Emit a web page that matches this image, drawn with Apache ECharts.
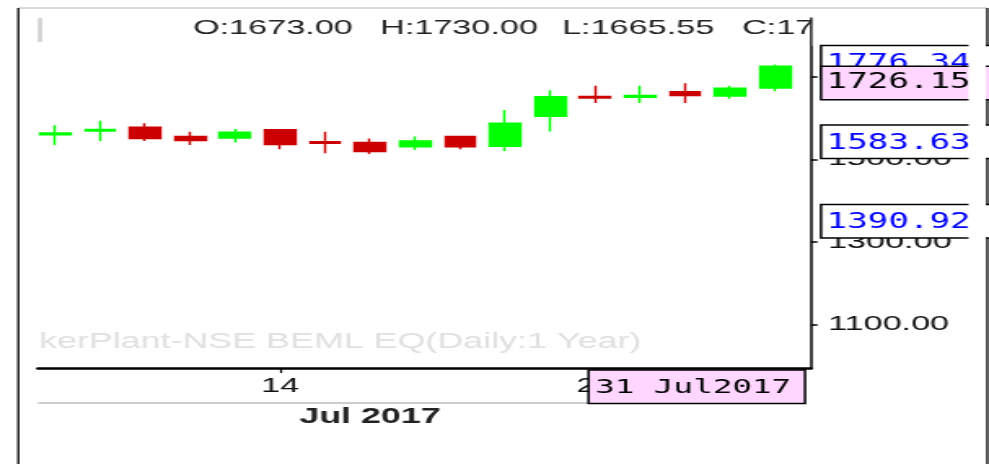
<!DOCTYPE html>
<html><head><meta charset="utf-8">
<script src="https://cdn.jsdelivr.net/npm/echarts@6/dist/echarts.min.js"></script>
<style>
html,body{margin:0;padding:0;background:#fff;overflow:hidden;}
#stage{width:989px;height:464px;overflow:hidden;position:relative;background:#fff;}
#chart{width:607px;height:464px;transform:scaleX(1.629325);transform-origin:0 0;}
</style></head><body>
<div id="stage"><div id="chart"></div></div>
<script>
// ---- data (NSE BEML EQ, daily, July 2017) ----
const dates = ['2017-07-07','2017-07-10','2017-07-11','2017-07-12','2017-07-13','2017-07-14',
  '2017-07-17','2017-07-18','2017-07-19','2017-07-20','2017-07-21','2017-07-24','2017-07-25',
  '2017-07-26','2017-07-27','2017-07-28','2017-07-31'];
const openPrices  = [1560,1569,1578,1556,1552,1572,1543,1541,1531,1556,1532,1605,1653,1651,1664,1654,1673];
const closePrices = [1564,1573,1551,1546,1566,1536,1539,1519,1545,1531,1588,1652,1649,1655,1655,1673,1726.15];
const lowPrices   = [1535,1545,1545,1535,1541,1525,1515,1513,1523,1525,1520,1568,1637,1637,1637,1647,1665.55];
const highPrices  = [1583,1594,1588,1567,1574,1573,1567,1551,1556,1557,1620,1668,1679,1679,1685,1679,1730];
const priceTicks = [1100, 1300, 1500, 1700];
const dateTickIndex = [5, 12];
const upperLevel = 1776.34;
const middleLevel = 1583.63;
const lowerLevel = 1390.92;
const watermarkText = 'kerPlant-NSE BEML EQ(Daily:1 Year)';
const monthNames = ['Jan','Feb','Mar','Apr','May','Jun','Jul','Aug','Sep','Oct','Nov','Dec'];

// ---- layout helpers (picture is horizontally stretched) ----
const S = 989 / 607;
const ix = v => v / S;
const SANS = "'Liberation Sans', Arial, sans-serif";
const MONO = "'DejaVu Sans Mono', 'Liberation Mono', monospace";

const candleData = dates.map((d, i) => [i, openPrices[i], closePrices[i], lowPrices[i], highPrices[i]]);
const last = dates.length - 1;

const chart = echarts.init(document.getElementById('chart'), null, {renderer: 'canvas'});
chart.setOption({
  animation: false,
  backgroundColor: '#fff',
  grid: {left: ix(38), right: 607 - ix(811), top: 18, bottom: 464 - 368, containLabel: false},
  xAxis: {
    type: 'value', min: -0.3814, max: 16.794,
    splitLine: {show: false},
    axisLine: {show: true, onZero: false, lineStyle: {color: '#000', width: 2.5}},
    axisTick: {show: true, customValues: dateTickIndex, length: 5, lineStyle: {color: '#000', width: 1.2}},
    axisLabel: {customValues: dateTickIndex, formatter: v => String(+dates[Math.round(v)].slice(8)),
      fontSize: 21, color: '#111', margin: 8, fontFamily: SANS}
  },
  yAxis: {
    type: 'value', position: 'right', min: 994.5, max: 1843,
    splitLine: {show: false},
    axisLine: {show: true, onZero: false, lineStyle: {color: '#000', width: 1.5}},
    axisTick: {show: true, customValues: priceTicks, length: 4, lineStyle: {color: '#000', width: 1.5}},
    axisLabel: {customValues: priceTicks, formatter: v => v.toFixed(2), fontSize: 21, color: '#111',
      margin: 10.4, fontFamily: SANS}
  },
  series: [{
    type: 'candlestick', data: candleData, barWidth: 19.2,
    itemStyle: {color: '#00ff00', color0: '#cc0000', borderColor: '#00ff00', borderColor0: '#cc0000', borderWidth: 1.45}
  }]
});

const yPix = v => chart.convertToPixel({yAxisIndex: 0}, v);
const g = [];
// frame
g.push({type: 'line', z: 100, shape: {x1: ix(18), y1: 8, x2: ix(987), y2: 8}, style: {stroke: '#b4b4b4', lineWidth: 1}});
g.push({type: 'line', z: 100, shape: {x1: ix(18.3), y1: 8, x2: ix(18.3), y2: 470}, style: {stroke: '#000', lineWidth: 1.3}});
g.push({type: 'line', z: 100, shape: {x1: ix(987.3), y1: 8, x2: ix(987.3), y2: 470}, style: {stroke: '#000', lineWidth: 1.3}});
// top-left mark
g.push({type: 'rect', z: 100, shape: {x: ix(38), y: 18, width: ix(4), height: 24}, style: {fill: '#cfcfcf'}});
// OHLC header
const hdr = [['O:' + openPrices[last].toFixed(2), 193], ['H:' + highPrices[last].toFixed(2), 380],
             ['L:' + lowPrices[last].toFixed(2), 562], ['C:' + closePrices[last].toFixed(2), 742]];
hdr.forEach(h => g.push({type: 'text', z: 100, x: ix(h[1]), y: 28.5,
  style: {text: h[0], font: '21px ' + SANS, fill: '#222', align: 'left', verticalAlign: 'middle'}}));
g.push({type: 'rect', z: 101, shape: {x: 498.7, y: 10, width: 605 - 498.7, height: 36}, style: {fill: '#fff'}});
// watermark
g.push({type: 'text', z: 1, x: ix(39), y: 341.5,
  style: {text: watermarkText, font: '22px ' + SANS, fill: '#e0e0e0', align: 'left', verticalAlign: 'middle'}});
// level boxes
const boxes = [[upperLevel, '#0000ff', '#ffffff', 18.5], [closePrices[last], '#000000', '#ffd6ff', 16.5],
               [middleLevel, '#0000ff', '#ffffff', 18.5], [lowerLevel, '#0000ff', '#ffffff', 18.5]];
boxes.forEach((b, k) => {
  const top = yPix(b[0]);
  g.push({type: 'rect', z: 110 + k * 2, shape: {x: ix(821), y: top, width: 110, height: 33.5},
    style: {fill: b[2], stroke: '#000', lineWidth: 1.5}});
  g.push({type: 'text', z: 111 + k * 2, x: ix(826.5), y: top + b[3],
    style: {text: b[0].toFixed(2), font: '21px ' + MONO, fill: b[1], align: 'left', verticalAlign: 'middle'}});
});
g.push({type: 'rect', z: 130, shape: {x: ix(968.5), y: 40, width: 605 - ix(968.5), height: 430}, style: {fill: '#fff'}});
// month band
g.push({type: 'line', z: 100, shape: {x1: ix(38), y1: 403, x2: ix(590), y2: 403}, style: {stroke: '#bdbdbd', lineWidth: 1.5}});
const d0 = dates[last].split('-');
g.push({type: 'text', z: 100, x: ix(370), y: 417,
  style: {text: monthNames[+d0[1] - 1] + ' ' + d0[0], font: 'bold 22px ' + SANS, fill: '#222', align: 'center', verticalAlign: 'middle'}});
// current date box
g.push({type: 'rect', z: 120, shape: {x: ix(588.5), y: 370, width: ix(805) - ix(588.5), height: 33.5},
  style: {fill: '#ffd6ff', stroke: '#000', lineWidth: 1.5}});
g.push({type: 'text', z: 121, x: ix(595), y: 388,
  style: {text: (+d0[2]) + ' ' + monthNames[+d0[1] - 1] + d0[0], font: '20px ' + MONO, fill: '#000', align: 'left', verticalAlign: 'middle'}});
chart.setOption({graphic: g});
</script>
</body></html>
